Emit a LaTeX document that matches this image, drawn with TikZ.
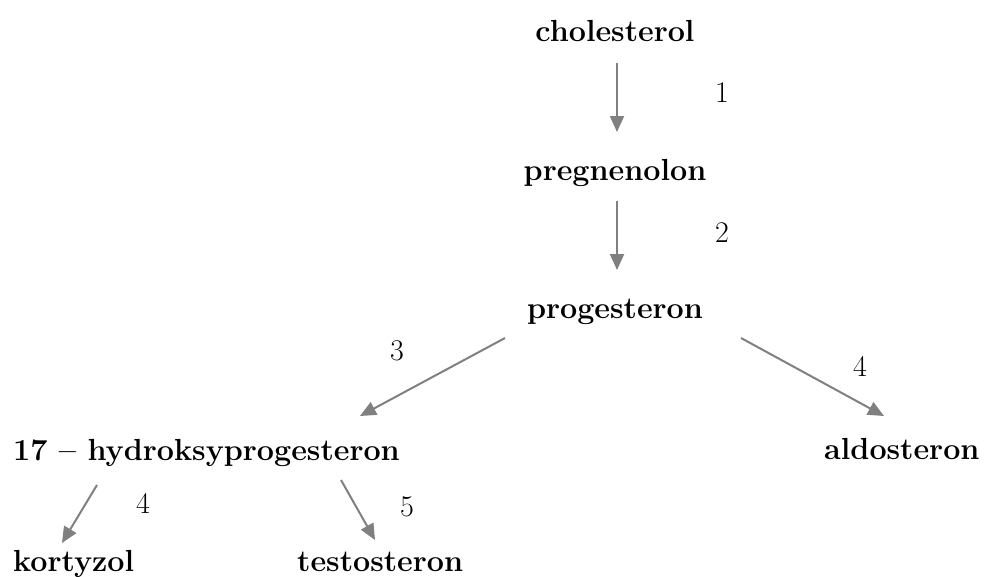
\documentclass[tikz,border=0pt]{standalone}
\usetikzlibrary{arrows.meta}
\definecolor{arrowgray}{RGB}{128,128,128}
\tikzset{
  compound/.style={font=\fontsize{30.5}{36}\selectfont\bfseries, inner sep=0pt, anchor=base},
  compoundw/.style={compound, anchor=base west},
  steplabel/.style={font=\fontsize{30}{36}\selectfont, inner sep=0pt},
  reaction/.style={draw=arrowgray, line width=2pt, -{Triangle[width=14pt,length=16pt]}}
}
\begin{document}
\begin{tikzpicture}[x=1pt,y=-1pt]
\useasboundingbox (0,0) rectangle (984,576);
% compounds
\node[compound] (chol) at (615,41) {cholesterol};
\node[compound] (preg) at (615,180) {pregnenolon};
\node[compound] (prog) at (615,318) {progesteron};
\node[compoundw] (hydro) at (13,460) {17 -- hydroksyprogesteron};
\node[compoundw] (aldo) at (824,459) {aldosteron};
\node[compoundw] (kort) at (13,571) {kortyzol};
\node[compoundw] (test) at (297,571) {testosteron};
% arrow endpoints
\coordinate (a1s) at (617,63);  \coordinate (a1e) at (617,132);
\coordinate (a2s) at (617,201); \coordinate (a2e) at (617,270);
\coordinate (a3s) at (505,338); \coordinate (a3e) at (360,416);
\coordinate (a4s) at (741,338); \coordinate (a4e) at (884,416);
\coordinate (a5s) at (97,485);  \coordinate (a5e) at (62,543);
\coordinate (a6s) at (341,480); \coordinate (a6e) at (375,540);
% arrows
\draw[reaction] (a1s) -- (a1e);
\draw[reaction] (a2s) -- (a2e);
\draw[reaction] (a3s) -- (a3e);
\draw[reaction] (a4s) -- (a4e);
\draw[reaction] (a5s) -- (a5e);
\draw[reaction] (a6s) -- (a6e);
% step labels
\node[steplabel] (l1) at (722,93) {1};
\node[steplabel] (l2) at (722,233) {2};
\node[steplabel] (l3) at (397,351) {3};
\node[steplabel] (l4) at (860,366) {4};
\node[steplabel] (l5) at (143,503) {4};
\node[steplabel] (l6) at (407,507) {5};
\end{tikzpicture}
\end{document}
